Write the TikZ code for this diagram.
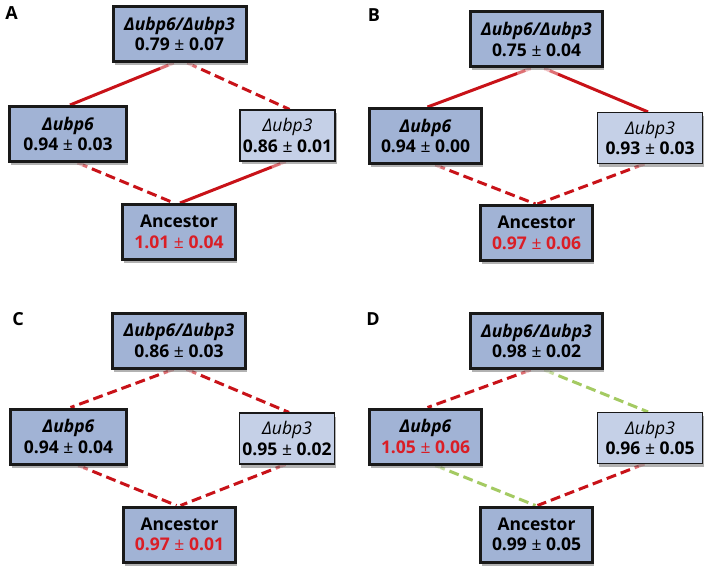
\documentclass[tikz,border=0pt]{standalone}
\usepackage{fontspec}
\setmainfont{Open Sans}
\usetikzlibrary{shadows,backgrounds}
\usepackage{xcolor}
\definecolor{boxline}{RGB}{25,25,25}
\definecolor{boxblue}{RGB}{161,179,213}
\definecolor{boxpale}{RGB}{197,208,231}
\definecolor{linkred}{RGB}{200,18,24}
\definecolor{linkgreen}{RGB}{164,202,98}
\definecolor{textred}{RGB}{218,30,38}
\newcommand{\fadedlink}[3]{%
  \draw[#1] #2 -- #3;
  \path #2 -- #3 coordinate[pos=.05] (fa) coordinate[pos=.13] (fb);
  \draw[white,opacity=.75,line width=3.6pt] #2 -- (fa);
  \draw[white,opacity=.4,line width=3.6pt] (fa) -- (fb);}
\tikzset{
  strain/.style={draw=boxline,line width=3pt,fill=boxblue,align=center,
    minimum width=#1,minimum height=55pt,inner sep=2pt,
    drop shadow={shadow xshift=1.5pt,shadow yshift=-3.5pt,opacity=.3,fill=black}},
  single/.style={draw=boxline,line width=1.2pt,fill=boxpale,align=center,
    minimum width=#1,minimum height=51pt,inner sep=2pt,
    drop shadow={shadow xshift=1.5pt,shadow yshift=-3.5pt,opacity=.3,fill=black}},
  panel/.style={font=\bfseries\fontsize{18}{20}\selectfont},
  solidlink/.style={draw=linkred,line width=3pt},
  redlink/.style={draw=linkred,line width=3pt,dash pattern=on 10pt off 5pt},
  greenlink/.style={draw=linkgreen,line width=3pt,dash pattern=on 10pt off 5pt}
}
\newcommand{\plusminus}{{\mdseries ±}}
\begin{document}
\begin{tikzpicture}[x=1pt,y=-1pt,font=\bfseries\fontsize{17.5}{20.5}\selectfont]
\useasboundingbox (0,0) rectangle (711,580);
\node[panel] (labA) at (11.5,13.5) {A};
\node[strain=133pt] (dblA) at (179.5,34) {\itshape Δubp6/Δubp3\\0.79 \plusminus{} 0.07};
\node[strain=117pt] (sixA) at (68,134) {\itshape Δubp6\\0.94 \plusminus{} 0.03};
\node[single=95pt] (threeA) at (287.5,135.5) {{\mdseries\itshape Δubp3}\\0.86 \plusminus{} 0.01};
\node[strain=113pt] (ancA) at (179,232) {Ancestor\\{\color{textred}1.01 \plusminus{} 0.04}};
\node[panel] (labB) at (374,15) {B};
\node[strain=132pt] (dblB) at (536.5,39.5) {\itshape Δubp6/Δubp3\\0.75 \plusminus{} 0.04};
\node[strain=112pt] (sixB) at (425.5,136) {\itshape Δubp6\\0.94 \plusminus{} 0.00};
\node[single=105pt] (threeB) at (650,138) {{\mdseries\itshape Δubp3}\\0.93 \plusminus{} 0.03};
\node[strain=112pt] (ancB) at (536.5,233) {Ancestor\\{\color{textred}0.97 \plusminus{} 0.06}};
\node[panel] (labC) at (18,319) {C};
\node[strain=133pt] (dblC) at (179,340.5) {\itshape Δubp6/Δubp3\\0.86 \plusminus{} 0.03};
\node[strain=116pt] (sixC) at (68.5,436.5) {\itshape Δubp6\\0.94 \plusminus{} 0.04};
\node[single=95pt] (threeC) at (287,438.5) {{\mdseries\itshape Δubp3}\\0.95 \plusminus{} 0.02};
\node[strain=112pt] (ancC) at (179.5,534.5) {Ancestor\\{\color{textred}0.97 \plusminus{} 0.01}};
\node[panel] (labD) at (373,319) {D};
\node[strain=132pt] (dblD) at (536.5,341) {\itshape Δubp6/Δubp3\\0.98 \plusminus{} 0.02};
\node[strain=112pt] (sixD) at (425.5,436.5) {\itshape Δubp6\\{\color{textred}1.05 \plusminus{} 0.06}};
\node[single=105pt] (threeD) at (650,438) {{\mdseries\itshape Δubp3}\\0.96 \plusminus{} 0.05};
\node[strain=112pt] (ancD) at (536.5,534.5) {Ancestor\\0.99 \plusminus{} 0.05};
\begin{pgfonlayer}{background}
\fadedlink{solidlink}{([xshift=-6pt]dblA.south)}{([xshift=2pt]sixA.north)}
\fadedlink{redlink}{([xshift=8pt]dblA.south)}{([xshift=2pt]threeA.north)}
\fadedlink{redlink}{([xshift=10pt]sixA.south)}{([xshift=-5pt]ancA.north)}
\fadedlink{solidlink}{([xshift=-2pt]threeA.south)}{([xshift=1pt]ancA.north)}
\fadedlink{solidlink}{([xshift=-6pt]dblB.south)}{([xshift=2pt]sixB.north)}
\fadedlink{solidlink}{([xshift=8pt]dblB.south)}{([xshift=-2pt]threeB.north)}
\fadedlink{redlink}{([xshift=10pt]sixB.south)}{([xshift=-1pt]ancB.north)}
\fadedlink{redlink}{([xshift=-6pt]threeB.south)}{([xshift=1pt]ancB.north)}
\fadedlink{redlink}{([xshift=-6pt]dblC.south)}{([xshift=2pt]sixC.north)}
\fadedlink{redlink}{([xshift=8pt]dblC.south)}{([xshift=2pt]threeC.north)}
\fadedlink{redlink}{([xshift=10pt]sixC.south)}{([xshift=-3pt]ancC.north)}
\fadedlink{redlink}{([xshift=-2pt]threeC.south)}{([xshift=1pt]ancC.north)}
\fadedlink{redlink}{([xshift=-6pt]dblD.south)}{([xshift=2pt]sixD.north)}
\fadedlink{greenlink}{([xshift=8pt]dblD.south)}{([xshift=-2pt]threeD.north)}
\fadedlink{greenlink}{([xshift=10pt]sixD.south)}{([xshift=-1pt]ancD.north)}
\fadedlink{redlink}{([xshift=-6pt]threeD.south)}{([xshift=1pt]ancD.north)}
\end{pgfonlayer}
\end{tikzpicture}
\end{document}
